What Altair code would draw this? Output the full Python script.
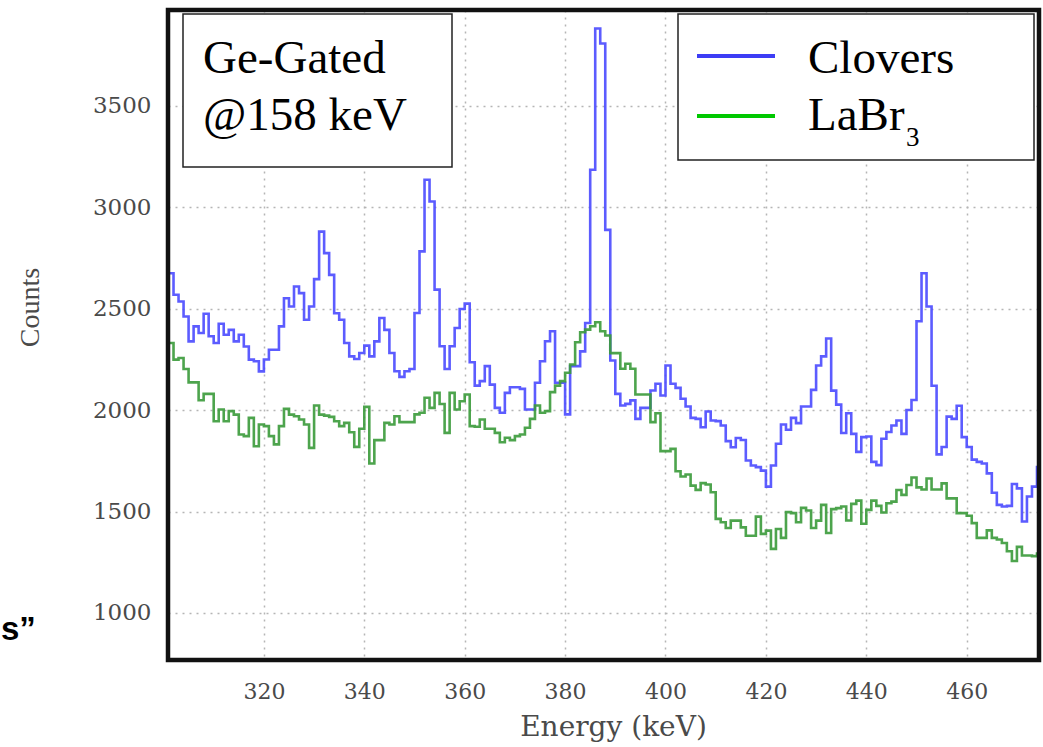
import altair as alt
import pandas as pd

# Bin start energies (keV), 1 keV bins
energy = list(range(301, 475))

clovers = [
    2675, 2569, 2536, 2462, 2339, 2413, 2380, 2475, 2364, 2331,  # 301-310
    2426, 2372, 2396, 2339, 2372, 2314, 2249, 2241, 2191, 2250,  # 311-320
    2298, 2298, 2413, 2552, 2511, 2610, 2577, 2446, 2511, 2646,  # 321-330
    2880, 2774, 2667, 2478, 2446, 2331, 2265, 2252, 2282, 2318,  # 331-340
    2265, 2339, 2454, 2396, 2282, 2192, 2164, 2192, 2203, 2479,  # 341-350
    2783, 3136, 3029, 2594, 2315, 2203, 2315, 2405, 2499, 2525,  # 351-360
    2236, 2121, 2143, 2217, 2126, 2011, 1987, 2085, 2113, 2113,  # 361-370
    2105, 2003, 2003, 2135, 2241, 2340, 2389, 2135, 2135, 1979,  # 371-380
    2217, 2217, 2290, 2430, 3185, 3882, 3808, 2889, 2245, 2080,  # 381-390
    2023, 2031, 2048, 1957, 2011, 2011, 2097, 2130, 2072, 2220,  # 391-400
    2130, 2110, 2056, 2018, 1962, 1957, 1916, 1993, 1949, 1946,  # 401-410
    1924, 1847, 1817, 1863, 1853, 1752, 1727, 1719, 1702, 1623,  # 411-420
    1727, 1834, 1929, 1903, 1962, 1936, 2018, 2018, 2100, 2220,  # 421-430
    2265, 2353, 2096, 2027, 1887, 1985, 1883, 1794, 1867, 1870,  # 431-440
    1745, 1729, 1859, 1892, 1924, 1949, 1883, 2001, 2050, 2438,  # 441-450
    2675, 2511, 2120, 1782, 1818, 1968, 1957, 2022, 1867, 1818,  # 451-460
    1756, 1745, 1737, 1688, 1593, 1533, 1525, 1528, 1636, 1614,  # 461-470
    1451, 1574, 1623, 1720,                                      # 471-474
]

labr3 = [
    2331, 2249, 2257, 2203, 2137, 2137, 2049, 2080, 2080, 1945,  # 301-310
    2003, 1945, 1995, 1978, 1880, 1872, 1962, 1822, 1929, 1921,  # 311-320
    1872, 1831, 1921, 2006, 1978, 1970, 1954, 1929, 1814, 2023,  # 321-330
    1978, 1973, 1967, 1945, 1921, 1937, 1891, 1819, 1908, 2016,  # 331-340
    1737, 1852, 1852, 1937, 1929, 1970, 1941, 1941, 1941, 1979,  # 341-350
    1987, 2061, 2011, 2085, 2030, 1888, 2085, 2003, 2044, 2077,  # 351-360
    1921, 1918, 1954, 1908, 1908, 1888, 1842, 1864, 1852, 1872,  # 361-370
    1880, 1913, 1957, 2023, 1987, 1995, 2089, 2121, 2143, 2184,  # 371-380
    2225, 2335, 2384, 2397, 2414, 2433, 2389, 2368, 2281, 2281,  # 381-390
    2204, 2229, 2204, 2077, 2077, 2077, 1941, 1985, 1798, 1798,  # 391-400
    1809, 1699, 1673, 1683, 1628, 1607, 1640, 1633, 1595, 1464,  # 401-410
    1447, 1419, 1455, 1455, 1422, 1381, 1381, 1475, 1390, 1406,  # 411-420
    1316, 1414, 1370, 1497, 1492, 1447, 1518, 1505, 1419, 1455,  # 421-430
    1533, 1394, 1512, 1517, 1525, 1456, 1538, 1554, 1440, 1508,  # 431-440
    1554, 1528, 1495, 1541, 1549, 1606, 1582, 1631, 1668, 1619,  # 441-450
    1609, 1663, 1609, 1609, 1639, 1565, 1565, 1492, 1492, 1479,  # 451-460
    1443, 1370, 1370, 1407, 1370, 1362, 1345, 1304, 1256, 1326,  # 461-470
    1283, 1283, 1280, 1293,                                      # 471-474
]

x_ticks = [320, 340, 360, 380, 400, 420, 440, 460]
y_ticks = [1000, 1500, 2000, 2500, 3000, 3500]
x_domain = [300.9, 474.4]
y_domain = [768, 3973]

assert len(energy) == len(clovers) == len(labr3)

# close last bin so the final step is drawn
e_ext = energy + [energy[-1] + 1]
df_b = pd.DataFrame({"energy": e_ext, "counts": clovers + [clovers[-1]]})
df_g = pd.DataFrame({"energy": e_ext, "counts": labr3 + [labr3[-1]]})

SERIF = "Liberation Serif"
AXF = "DejaVu Serif"
W, H = 871, 650

x_enc = alt.X(
    "energy:Q",
    scale=alt.Scale(domain=x_domain, nice=False, zero=False),
    axis=alt.Axis(
        values=x_ticks, title="Energy (keV)", grid=True, ticks=False, format="d",
        labelFont=AXF, labelFontSize=22, labelColor="#4a4a4a",
        labelPadding=21, titleFont=AXF, titleFontSize=28,
        titleFontWeight="normal", titleColor="#4a4a4a", titlePadding=11,
        titleX=445,
        domain=False, gridColor="#b5b5b5", gridDash=[2, 5], gridWidth=1.5,
    ),
)
y_enc = alt.Y(
    "counts:Q",
    scale=alt.Scale(domain=y_domain, nice=False, zero=False),
    axis=alt.Axis(
        values=y_ticks, title="Counts", grid=True, ticks=False, format="d",
        labelFont=AXF, labelFontSize=23, labelColor="#4a4a4a",
        labelPadding=17, titleFont=SERIF, titleFontSize=28,
        titleFontWeight="normal", titleColor="#4a4a4a",
        titleX=-138, titleY=297, titleAngle=-90, titleAlign="center",
        titleBaseline="middle",
        domain=False, gridColor="#b5b5b5", gridDash=[2, 5], gridWidth=1.5,
    ),
)

blue = alt.Chart(df_b).mark_line(
    interpolate="step-after", color="#4a4aff", strokeWidth=2.6, clip=True,
    opacity=0.9,
).encode(x=x_enc, y=y_enc)

green = alt.Chart(df_g).mark_line(
    interpolate="step-after", color="#3a9a3a", strokeWidth=2.6, clip=True,
    opacity=0.9,
).encode(x="energy:Q", y="counts:Q")

one = pd.DataFrame({"k": [0]})

frame = alt.Chart(one).mark_rect(fill=None, stroke="#111", strokeWidth=4.5).encode(
    x=alt.value(0), x2=alt.value(W), y=alt.value(0), y2=alt.value(H))

box1 = alt.Chart(one).mark_rect(fill="white", stroke="#222", strokeWidth=1.5).encode(
    x=alt.value(15), x2=alt.value(284), y=alt.value(4), y2=alt.value(157))
box2 = alt.Chart(one).mark_rect(fill="white", stroke="#222", strokeWidth=1.5).encode(
    x=alt.value(510), x2=alt.value(866), y=alt.value(4), y2=alt.value(150))

leg_b = alt.Chart(one).mark_rule(color="#3d3df5", strokeWidth=4).encode(
    x=alt.value(529), x2=alt.value(607), y=alt.value(46))
leg_g = alt.Chart(one).mark_rule(color="#00c800", strokeWidth=4).encode(
    x=alt.value(529), x2=alt.value(607), y=alt.value(106))


def txt(s, x, y, size, font=SERIF, weight="normal", align="left", color="black"):
    return alt.Chart(pd.DataFrame({"t": [s]})).mark_text(
        font=font, fontSize=size, fontWeight=weight, align=align,
        baseline="alphabetic", color=color,
    ).encode(text="t:N", x=alt.value(x), y=alt.value(y))


texts = [
    txt("Ge-Gated", 35, 63, 47),
    txt("@158 keV", 35, 120, 47),
    txt("Clovers", 640, 63, 47),
    txt("LaBr", 640, 120, 47),
    txt("3", 738, 136, 27),
    txt("s\u201d", 1 - 168, 640 - 10, 33, font="Liberation Sans", weight="bold"),
]

chart = alt.layer(blue, green, frame, box1, box2, leg_b, leg_g, *texts).properties(
    width=W, height=H,
    padding={"left": 168, "top": 10, "right": 4, "bottom": 87},
    autosize=alt.AutoSizeParams(type="none"),
).configure_view(
    stroke=None,
).configure(background="white")

chart.save("out.html", embed_options={"renderer": "svg", "actions": False})
